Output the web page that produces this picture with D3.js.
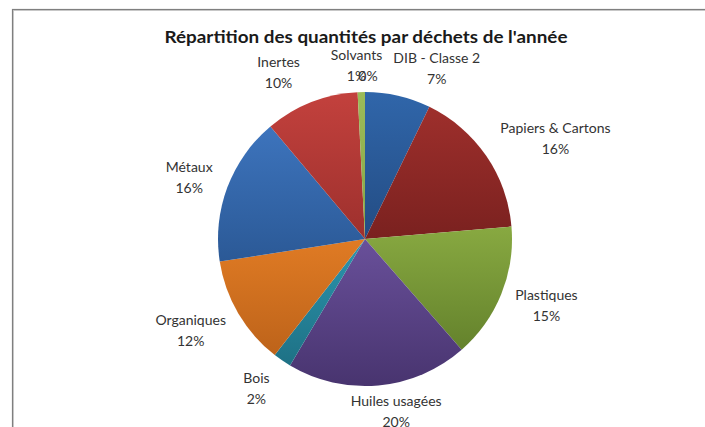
<!DOCTYPE html>
<html>
<head>
<meta charset="utf-8">
<script src="https://cdn.jsdelivr.net/npm/d3@7"></script>
<style>
  body { margin: 0; background: #fff; }
  #chart { width: 705px; height: 427px; }
</style>
</head>
<body>
<div id="chart"></div>
<script>
// Répartition des déchets - camembert
const categories = ["DIB - Classe 2", "Papiers & Cartons", "Plastiques", "Huiles usagées", "Bois",
    "Organiques", "Métaux", "Inertes", "Solvants", ""];
const values = [7.2, 16.4, 14.9, 19.9, 2.0, 12.0, 16.3, 10.3, 0.8, 0];
const colorsTop = ["#3066aa", "#9e2f2c", "#88a941", "#69509a", "#2c95ae", "#e07b24", "#3d74bd", "#c3413d", "#9bbb59", "#8064a2"];
const colorsBottom = ["#234c83", "#7a211f", "#64822c", "#48346f", "#1e7185", "#bd631a", "#2b5996", "#9d302d", "#86a647", "#6a5090"];

// label layout nudges (dx, dy) relative to the computed outside position
const labelNudge = [[27, -1], [18, -2], [9, 1], [13, -1], [-15, 6], [-14, 3], [-14, 0], [-22, -4], [-4, 1], [3, 1]];

const width = 705, height = 427;
const cx = 365, cy = 239, r = 147;

const svg = d3.select("#chart").append("svg")
    .attr("width", width)
    .attr("height", height);

// chart frame (only top/left edges visible)
svg.append("rect")
    .attr("x", 13.5).attr("y", 10.5)
    .attr("width", width).attr("height", height)
    .attr("fill", "none").attr("stroke", "#d0d0d0").attr("stroke-width", 1);
svg.append("rect")
    .attr("x", 12.5).attr("y", 9.5)
    .attr("width", width).attr("height", height)
    .attr("fill", "none").attr("stroke", "#7f7f7f").attr("stroke-width", 1.2);

svg.append("text")
    .attr("x", 366)
    .attr("y", 43)
    .attr("text-anchor", "middle")
    .attr("font-family", "Lato, 'Open Sans', sans-serif")
    .attr("font-weight", "bold")
    .attr("font-size", "17px")
    .attr("fill", "#1a1a1a")
    .attr("textLength", 403)
    .attr("lengthAdjust", "spacingAndGlyphs")
    .text("Répartition des quantités par déchets de l'année");

const data = categories.map((c, i) => ({ name: c, value: values[i], i: i }));
const total = d3.sum(values);
const pct = d3.format(".0%");

const defs = svg.append("defs");
data.forEach((d) => {
    const g = defs.append("linearGradient")
        .attr("id", "grad" + d.i)
        .attr("x1", 0).attr("y1", 0).attr("x2", 0).attr("y2", 1);
    g.append("stop").attr("offset", "0%").attr("stop-color", colorsTop[d.i]);
    g.append("stop").attr("offset", "100%").attr("stop-color", colorsBottom[d.i]);
});

const pie = d3.pie().sort(null).value((d) => d.value);
const arc = d3.arc().innerRadius(0).outerRadius(r);
const arcs = pie(data);

const g = svg.append("g").attr("transform", `translate(${cx},${cy})`);

g.selectAll("path")
    .data(arcs)
    .join("path")
    .attr("d", arc)
    .attr("fill", (d) => `url(#grad${d.data.i})`);

// labels: two lines (name, percent) placed just outside the slice
const labelW = (s) => s.length * 6.6;
const lab = svg.append("g")
    .attr("font-family", "Lato, 'Open Sans', sans-serif")
    .attr("font-size", "14px")
    .attr("fill", "#333")
    .attr("text-anchor", "middle");

arcs.forEach((a) => {
    const mid = (a.startAngle + a.endAngle) / 2;
    const ux = Math.sin(mid), uy = -Math.cos(mid);
    const w = labelW(a.data.name || "00");
    const px = cx + (r + 6) * ux + ux * w / 2 + labelNudge[a.data.i][0];
    const py = cy + (r + 6) * uy + uy * 21 + labelNudge[a.data.i][1];
    if (a.data.name) {
        lab.append("text")
            .attr("x", px).attr("y", py - 10.5)
            .attr("dy", "0.35em")
            .text(a.data.name);
    }
    lab.append("text")
        .attr("x", px).attr("y", py + 10.5)
        .attr("dy", "0.35em")
        .text(pct(a.data.value / total));
});
</script>
</body>
</html>
